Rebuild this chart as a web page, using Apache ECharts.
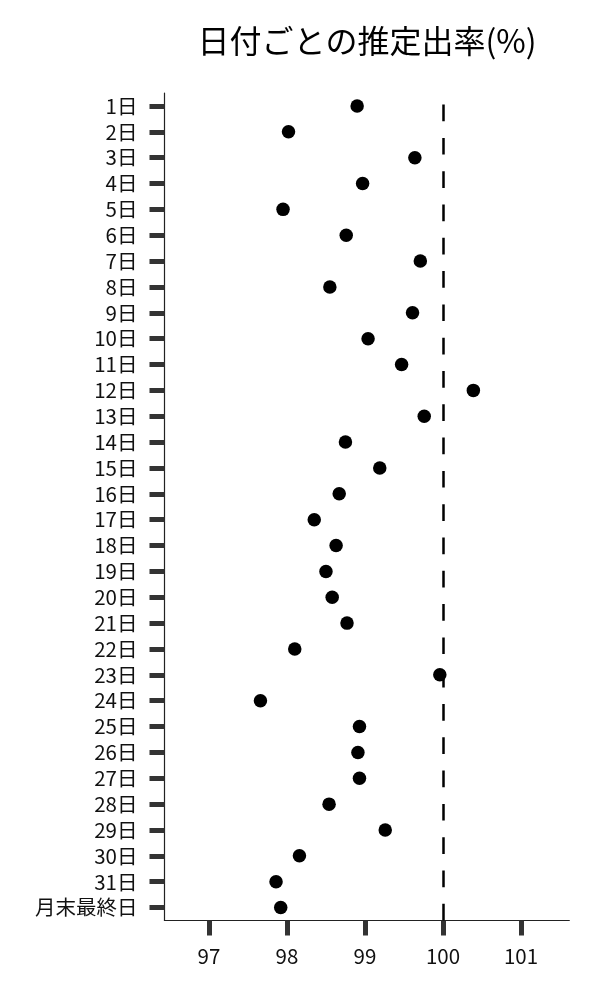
<!DOCTYPE html>
<html>
<head>
<meta charset="utf-8">
<script src="https://cdn.jsdelivr.net/npm/echarts@6/dist/echarts.min.js"></script>
<style>
html,body{margin:0;padding:0;background:#fff;}
#chart{width:600px;height:1000px;}
</style>
</head>
<body>
<div id="chart"></div>
<script>
const titleText = '日付ごとの推定出率(%)';
const categories = ['1日','2日','3日','4日','5日','6日','7日','8日','9日','10日',
  '11日','12日','13日','14日','15日','16日','17日','18日','19日','20日',
  '21日','22日','23日','24日','25日','26日','27日','28日','29日','30日','31日','月末最終日'];
const rates = [98.90, 98.02, 99.64, 98.97, 97.95, 98.76, 99.71, 98.55, 99.61, 99.04,
  99.47, 100.39, 99.76, 98.75, 99.19, 98.67, 98.35, 98.63, 98.50, 98.58,
  98.77, 98.10, 99.96, 97.66, 98.93, 98.91, 98.93, 98.54, 99.26, 98.16, 97.86, 97.92];
const xTicks = [97, 98, 99, 100, 101];
const xMin = 96.43, xMax = 101.62;
const refValue = 100;

const FONT = '"Noto Sans CJK JP", "Noto Sans", sans-serif';
const chart = echarts.init(document.getElementById('chart'), null, {renderer: 'canvas'});
chart.setOption({
  animation: false,
  backgroundColor: '#fff',
  title: {
    text: titleText,
    left: 362, top: 20, textAlign: 'center',
    textStyle: {fontFamily: FONT, fontSize: 32, fontWeight: 'normal', color: '#000'}
  },
  grid: {left: 164.5, right: 30.7, top: 93, bottom: 79.5, containLabel: false},
  xAxis: {
    type: 'value', min: xMin, max: xMax,
    axisLine: {show: true, onZero: false, lineStyle: {color: '#222', width: 1.2}},
    axisTick: {show: true, length: 15, customValues: xTicks, lineStyle: {color: '#333', width: 5}},
    axisLabel: {customValues: xTicks, margin: 25, fontFamily: FONT, fontSize: 20.5, color: '#111'},
    splitLine: {show: false}
  },
  yAxis: {
    type: 'category',
    data: categories.slice().reverse(),
    boundaryGap: true,
    axisLine: {show: true, lineStyle: {color: '#222', width: 1.2}},
    axisTick: {show: true, length: 15, alignWithLabel: true, lineStyle: {color: '#333', width: 5}},
    axisLabel: {margin: 27, fontFamily: FONT, fontSize: 20.5, color: '#111', interval: 0},
    splitLine: {show: false}
  },
  series: [{
    type: 'scatter',
    symbol: 'circle',
    symbolSize: 13.5,
    itemStyle: {color: '#000', opacity: 1},
    data: rates.map((v, i) => [v, categories[i]]),
    markLine: {
      silent: true,
      symbol: ['none', 'none'],
      label: {show: false},
      lineStyle: {color: '#000', width: 2.5, type: [16.7, 16.6], opacity: 1},
      data: [{xAxis: refValue}]
    },
    z: 3
  }]
});
</script>
</body>
</html>
